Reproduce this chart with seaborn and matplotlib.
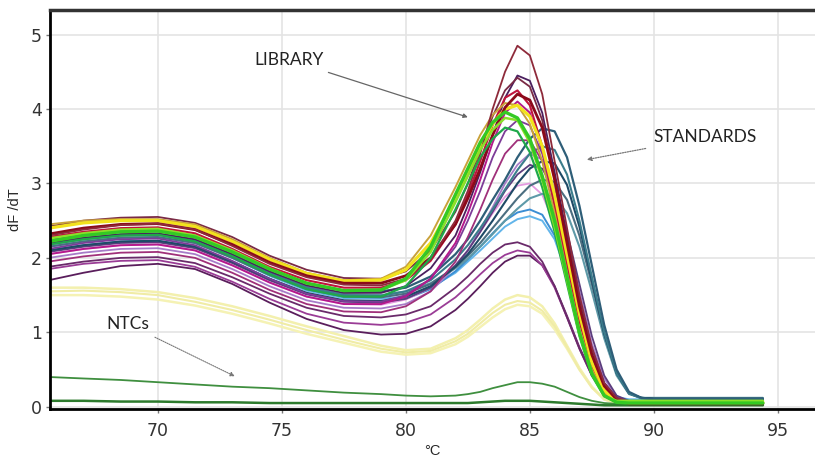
import matplotlib
matplotlib.use("Agg")
import matplotlib.pyplot as plt
import seaborn as sns
import pandas as pd

# Temperature grid (°C)
temps = [65.6, 67, 68.5, 70, 71.5, 73, 74.5, 76, 77.5, 79, 80, 81, 82, 82.5, 83, 83.5,
         84, 84.5, 85, 85.5, 86, 86.5, 87, 87.5, 88, 88.5, 89, 89.5, 90, 92, 94.4]

# Library curves
lib_a1 = [2.30, 2.38, 2.44, 2.46, 2.38, 2.16, 1.92, 1.74, 1.64, 1.63, 1.72, 1.98, 2.50, 2.90, 3.40, 4.00, 4.50, 4.85, 4.72, 4.20, 3.30, 2.40, 1.50, 0.80, 0.32, 0.12, 0.07, 0.06, 0.06, 0.06, 0.06]
lib_a2 = [2.42, 2.50, 2.54, 2.55, 2.47, 2.28, 2.03, 1.84, 1.73, 1.72, 1.82, 2.10, 2.62, 3.00, 3.45, 3.90, 4.25, 4.42, 4.30, 3.85, 3.05, 2.20, 1.35, 0.70, 0.28, 0.10, 0.07, 0.07, 0.07, 0.07, 0.07]
lib_a3 = [2.20, 2.27, 2.32, 2.33, 2.25, 2.05, 1.82, 1.63, 1.53, 1.53, 1.62, 1.86, 2.30, 2.70, 3.15, 3.65, 4.15, 4.45, 4.38, 3.95, 3.15, 2.30, 1.45, 0.78, 0.32, 0.12, 0.06, 0.06, 0.06, 0.06, 0.06]
lib_a4 = [2.28, 2.35, 2.40, 2.41, 2.33, 2.12, 1.88, 1.70, 1.60, 1.60, 1.70, 1.96, 2.45, 2.85, 3.30, 3.78, 4.15, 4.25, 4.05, 3.50, 2.70, 1.90, 1.15, 0.55, 0.20, 0.08, 0.05, 0.05, 0.05, 0.05, 0.05]
lib_a5 = [2.32, 2.40, 2.45, 2.46, 2.38, 2.18, 1.94, 1.76, 1.66, 1.66, 1.76, 2.00, 2.45, 2.80, 3.20, 3.65, 4.02, 4.20, 4.12, 3.75, 3.05, 2.20, 1.35, 0.70, 0.28, 0.10, 0.04, 0.04, 0.04, 0.04, 0.04]
lib_a6 = [2.05, 2.12, 2.17, 2.18, 2.10, 1.90, 1.67, 1.48, 1.38, 1.38, 1.48, 1.72, 2.20, 2.60, 3.05, 3.55, 3.95, 4.10, 3.95, 3.45, 2.70, 1.90, 1.15, 0.58, 0.22, 0.08, 0.05, 0.05, 0.05, 0.05, 0.05]
lib_a7 = [2.12, 2.20, 2.25, 2.26, 2.17, 1.96, 1.72, 1.52, 1.42, 1.41, 1.50, 1.72, 2.15, 2.50, 2.90, 3.35, 3.70, 3.85, 3.78, 3.40, 2.75, 2.00, 1.25, 0.65, 0.26, 0.10, 0.06, 0.06, 0.06, 0.06, 0.06]
lib_a8 = [1.95, 2.02, 2.07, 2.08, 2.00, 1.80, 1.57, 1.38, 1.28, 1.27, 1.35, 1.55, 1.95, 2.28, 2.65, 3.05, 3.40, 3.58, 3.58, 3.30, 2.75, 2.05, 1.30, 0.70, 0.28, 0.10, 0.06, 0.06, 0.06, 0.06, 0.06]
lib_b1 = [2.22, 2.30, 2.35, 2.36, 2.28, 2.08, 1.85, 1.66, 1.56, 1.57, 1.72, 2.15, 2.85, 3.20, 3.55, 3.82, 3.96, 3.88, 3.60, 3.10, 2.50, 1.75, 1.00, 0.45, 0.15, 0.06, 0.05, 0.05, 0.05, 0.05, 0.05]
lib_b2 = [2.26, 2.33, 2.38, 2.39, 2.30, 2.10, 1.86, 1.66, 1.56, 1.57, 1.70, 2.08, 2.75, 3.10, 3.45, 3.72, 3.88, 3.85, 3.55, 3.05, 2.42, 1.70, 0.98, 0.45, 0.15, 0.08, 0.08, 0.08, 0.08, 0.08, 0.08]
lib_b3 = [2.18, 2.25, 2.30, 2.31, 2.22, 2.02, 1.78, 1.58, 1.48, 1.48, 1.62, 2.00, 2.65, 3.00, 3.35, 3.60, 3.75, 3.70, 3.42, 2.95, 2.35, 1.65, 0.95, 0.42, 0.14, 0.06, 0.05, 0.05, 0.05, 0.05, 0.05]
lib_c1 = [2.40, 2.47, 2.50, 2.50, 2.42, 2.22, 1.98, 1.79, 1.69, 1.70, 1.84, 2.20, 2.80, 3.15, 3.50, 3.80, 4.00, 4.05, 3.90, 3.50, 2.85, 2.05, 1.25, 0.60, 0.22, 0.08, 0.06, 0.06, 0.06, 0.06, 0.06]
lib_c2 = [2.45, 2.50, 2.52, 2.52, 2.45, 2.25, 2.00, 1.80, 1.70, 1.72, 1.88, 2.30, 2.95, 3.30, 3.65, 3.92, 4.08, 4.05, 3.80, 3.30, 2.60, 1.80, 1.05, 0.50, 0.18, 0.07, 0.05, 0.05, 0.05, 0.05, 0.05]
lib_e1 = [2.05, 2.12, 2.17, 2.18, 2.10, 1.90, 1.67, 1.48, 1.38, 1.37, 1.44, 1.60, 1.90, 2.10, 2.35, 2.60, 2.82, 2.97, 3.00, 2.85, 2.45, 1.85, 1.20, 0.65, 0.28, 0.10, 0.06, 0.06, 0.06, 0.06, 0.06]
lib_e2 = [2.00, 2.07, 2.12, 2.13, 2.05, 1.85, 1.62, 1.43, 1.33, 1.32, 1.38, 1.55, 1.88, 2.10, 2.38, 2.68, 3.00, 3.25, 3.40, 3.32, 2.95, 2.30, 1.55, 0.85, 0.38, 0.14, 0.07, 0.07, 0.07, 0.07, 0.07]
lib_e3 = [2.08, 2.15, 2.20, 2.21, 2.13, 1.93, 1.70, 1.51, 1.41, 1.40, 1.45, 1.60, 1.90, 2.10, 2.35, 2.62, 2.90, 3.12, 3.25, 3.20, 2.90, 2.35, 1.65, 0.95, 0.42, 0.15, 0.08, 0.08, 0.08, 0.08, 0.08]
lib_f1 = [2.10, 2.17, 2.22, 2.23, 2.15, 1.95, 1.72, 1.52, 1.42, 1.41, 1.45, 1.58, 1.82, 1.98, 2.15, 2.33, 2.50, 2.61, 2.65, 2.58, 2.30, 1.80, 1.20, 0.65, 0.30, 0.12, 0.08, 0.08, 0.08, 0.08, 0.08]
lib_f2 = [2.15, 2.22, 2.27, 2.28, 2.20, 2.00, 1.76, 1.56, 1.46, 1.45, 1.48, 1.60, 1.80, 1.95, 2.10, 2.26, 2.42, 2.52, 2.56, 2.50, 2.25, 1.78, 1.20, 0.68, 0.32, 0.13, 0.10, 0.10, 0.10, 0.10, 0.10]
lib_g1 = [1.88, 1.95, 2.00, 2.01, 1.93, 1.74, 1.52, 1.33, 1.22, 1.20, 1.24, 1.35, 1.60, 1.75, 1.92, 2.07, 2.18, 2.21, 2.15, 1.95, 1.62, 1.20, 0.78, 0.42, 0.20, 0.10, 0.07, 0.07, 0.07, 0.07, 0.07]
lib_g2 = [1.85, 1.92, 1.96, 1.97, 1.88, 1.68, 1.45, 1.25, 1.13, 1.10, 1.13, 1.24, 1.47, 1.62, 1.78, 1.93, 2.04, 2.10, 2.07, 1.90, 1.60, 1.20, 0.78, 0.42, 0.20, 0.10, 0.07, 0.07, 0.07, 0.07, 0.07]
lib_g3 = [1.70, 1.80, 1.89, 1.92, 1.85, 1.65, 1.40, 1.18, 1.03, 0.97, 0.98, 1.08, 1.30, 1.45, 1.62, 1.80, 1.95, 2.03, 2.03, 1.90, 1.62, 1.22, 0.80, 0.45, 0.22, 0.10, 0.06, 0.06, 0.06, 0.06, 0.06]
low_h1 = [1.60, 1.60, 1.58, 1.54, 1.46, 1.35, 1.22, 1.08, 0.95, 0.82, 0.76, 0.78, 0.92, 1.03, 1.17, 1.32, 1.44, 1.50, 1.47, 1.35, 1.12, 0.82, 0.52, 0.27, 0.10, 0.05, 0.04, 0.04, 0.04, 0.04, 0.04]
low_h2 = [1.50, 1.50, 1.48, 1.44, 1.36, 1.25, 1.12, 0.98, 0.86, 0.74, 0.70, 0.72, 0.84, 0.94, 1.07, 1.20, 1.31, 1.37, 1.35, 1.25, 1.04, 0.78, 0.50, 0.26, 0.10, 0.05, 0.04, 0.04, 0.04, 0.04, 0.04]
low_h3 = [1.55, 1.56, 1.54, 1.50, 1.41, 1.30, 1.17, 1.03, 0.90, 0.78, 0.73, 0.75, 0.88, 0.98, 1.12, 1.26, 1.37, 1.42, 1.40, 1.29, 1.08, 0.80, 0.50, 0.26, 0.10, 0.05, 0.04, 0.04, 0.04, 0.04, 0.04]

# Standards
std_d1 = [2.25, 2.32, 2.37, 2.38, 2.30, 2.10, 1.86, 1.66, 1.56, 1.55, 1.60, 1.75, 2.05, 2.25, 2.50, 2.78, 3.05, 3.35, 3.60, 3.74, 3.70, 3.35, 2.70, 1.90, 1.10, 0.50, 0.20, 0.12, 0.10, 0.10, 0.10]
std_d2 = [2.18, 2.25, 2.30, 2.31, 2.23, 2.03, 1.80, 1.60, 1.50, 1.49, 1.55, 1.70, 1.98, 2.17, 2.40, 2.65, 2.92, 3.18, 3.40, 3.50, 3.45, 3.12, 2.50, 1.75, 1.00, 0.45, 0.18, 0.11, 0.10, 0.10, 0.10]
std_d3 = [2.10, 2.17, 2.22, 2.23, 2.15, 1.95, 1.72, 1.53, 1.43, 1.42, 1.48, 1.62, 1.88, 2.05, 2.27, 2.50, 2.75, 3.00, 3.20, 3.30, 3.27, 2.98, 2.42, 1.70, 0.98, 0.45, 0.18, 0.12, 0.11, 0.11, 0.11]
std_d4 = [2.15, 2.22, 2.27, 2.28, 2.20, 2.00, 1.77, 1.58, 1.48, 1.47, 1.52, 1.65, 1.88, 2.03, 2.20, 2.40, 2.60, 2.80, 2.97, 3.05, 3.02, 2.78, 2.30, 1.65, 0.98, 0.45, 0.18, 0.12, 0.11, 0.11, 0.11]
std_d5 = [2.20, 2.27, 2.31, 2.32, 2.24, 2.04, 1.80, 1.61, 1.51, 1.50, 1.55, 1.66, 1.86, 1.99, 2.15, 2.32, 2.50, 2.66, 2.80, 2.86, 2.82, 2.60, 2.15, 1.55, 0.92, 0.42, 0.17, 0.12, 0.12, 0.12, 0.12]

# No-template controls
ntc_1 = [0.40, 0.38, 0.36, 0.33, 0.30, 0.27, 0.25, 0.22, 0.19, 0.17, 0.15, 0.14, 0.15, 0.17, 0.20, 0.25, 0.29, 0.33, 0.33, 0.31, 0.27, 0.20, 0.13, 0.08, 0.05, 0.04, 0.03, 0.03, 0.03, 0.03, 0.03]
ntc_2 = [0.08, 0.08, 0.07, 0.07, 0.06, 0.06, 0.05, 0.05, 0.05, 0.05, 0.05, 0.05, 0.05, 0.05, 0.06, 0.07, 0.08, 0.08, 0.08, 0.07, 0.06, 0.05, 0.04, 0.03, 0.02, 0.02, 0.02, 0.02, 0.02, 0.02, 0.02]

x_ticks = [70, 75, 80, 85, 90, 95]
y_ticks = [0, 1, 2, 3, 4, 5]

# drawing order: (values, color, linewidth)
curves = [
    (low_h1, "#F3F0AE", 1.8), (low_h2, "#F5F2B4", 1.8), (low_h3, "#F0ECA6", 1.5),
    (ntc_1, "#3F8F3F", 1.3), (ntc_2, "#2C7A2C", 1.8),
    (lib_g3, "#5A1E5C", 1.3), (lib_g2, "#9A3C96", 1.3), (lib_g1, "#6A2A6A", 1.3),
    (lib_f2, "#62B5EA", 1.4), (lib_f1, "#3B8ED4", 1.4),
    (lib_e1, "#E49AE0", 1.3), (lib_e2, "#A77BC8", 1.3), (lib_e3, "#5B3D7D", 1.3),
    (std_d5, "#5E9AA8", 1.5), (std_d4, "#4B6E80", 1.5), (std_d3, "#1E4A66", 1.5),
    (std_d2, "#3B7D8C", 1.5), (std_d1, "#2E5E78", 1.6),
    (lib_a8, "#A0307A", 1.3), (lib_a7, "#7D3C98", 1.3), (lib_a6, "#B5198C", 1.4),
    (lib_a3, "#4B1F5E", 1.3), (lib_a2, "#7A2A45", 1.3), (lib_a4, "#C0143C", 1.5),
    (lib_c2, "#C9A23A", 1.4), (lib_c1, "#F2E21C", 2.3),
    (lib_a5, "#8B0A1A", 2.0), (lib_a1, "#8E2A3A", 1.3),
    (lib_b3, "#1FA84A", 1.6), (lib_b2, "#8BE02A", 1.8), (lib_b1, "#34C924", 2.4),
]

sns.set_style("white")
fig = plt.figure(figsize=(8.15, 4.59), dpi=100)
ax = fig.add_axes([50 / 815, 50 / 459, 765 / 815, 399 / 459])

for vals, col, lw in curves:
    df = pd.DataFrame({"T": temps, "v": vals})
    sns.lineplot(data=df, x="T", y="v", color=col, linewidth=lw, ax=ax,
                 estimator=None, sort=False)

ax.set_xlim(65.65, 96.5)
ax.set_ylim(-0.03, 5.33)
ax.set_xticks(x_ticks)
ax.set_yticks(y_ticks)
ax.grid(True, color="#e4e4e4", linewidth=1.2)
ax.set_axisbelow(True)

tick_font = ["Liberation Sans Narrow", "DejaVu Sans"]
ax.set_xticklabels([str(t) for t in x_ticks], fontsize=12.5, color="#333333", family=tick_font)
ax.set_yticklabels([str(t) for t in y_ticks], fontsize=12.5, color="#333333", family=tick_font)
ax.tick_params(axis="both", direction="out", length=3, width=1, color="#777777", pad=3,
               bottom=True, left=True)
ax.tick_params(axis="x", pad=6)

for s in ["left", "bottom"]:
    ax.spines[s].set_color("black")
    ax.spines[s].set_linewidth(2)
ax.spines["top"].set_color("#333333")
ax.spines["top"].set_linewidth(2.5)
ax.spines["right"].set_visible(False)

ax.set_xlabel("°C", fontsize=10.5, family=["Liberation Sans", "DejaVu Sans"], labelpad=3)
ax.set_ylabel("dF /dT", fontsize=10.5, family=["Liberation Sans", "DejaVu Sans"], labelpad=6)

ann_font = ["Lato", "DejaVu Sans"]
ax.annotate("LIBRARY", xy=(82.5, 3.89), xytext=(75.3, 4.66), fontsize=12.5, family=ann_font,
            color="#222222", ha="center", va="center",
            arrowprops=dict(arrowstyle="-|>,head_length=0.2,head_width=0.1", color="#666666",
                            lw=0.9, shrinkA=3, shrinkB=0))
ax.annotate("STANDARDS", xy=(87.3, 3.32), xytext=(92.05, 3.62), fontsize=12.5, family=ann_font,
            color="#222222", ha="center", va="center",
            arrowprops=dict(arrowstyle="-|>,head_length=0.2,head_width=0.1", color="#777777",
                            lw=0.9, ls=(0, (1, 1)), shrinkA=3, shrinkB=0))
ax.annotate("NTCs", xy=(73.1, 0.41), xytext=(68.8, 1.11), fontsize=12.5, family=ann_font,
            color="#222222", ha="center", va="center",
            arrowprops=dict(arrowstyle="-|>,head_length=0.2,head_width=0.1", color="#777777",
                            lw=0.8, ls=(0, (1, 1)), shrinkA=3, shrinkB=0))

fig.savefig("out.png", dpi=100)
